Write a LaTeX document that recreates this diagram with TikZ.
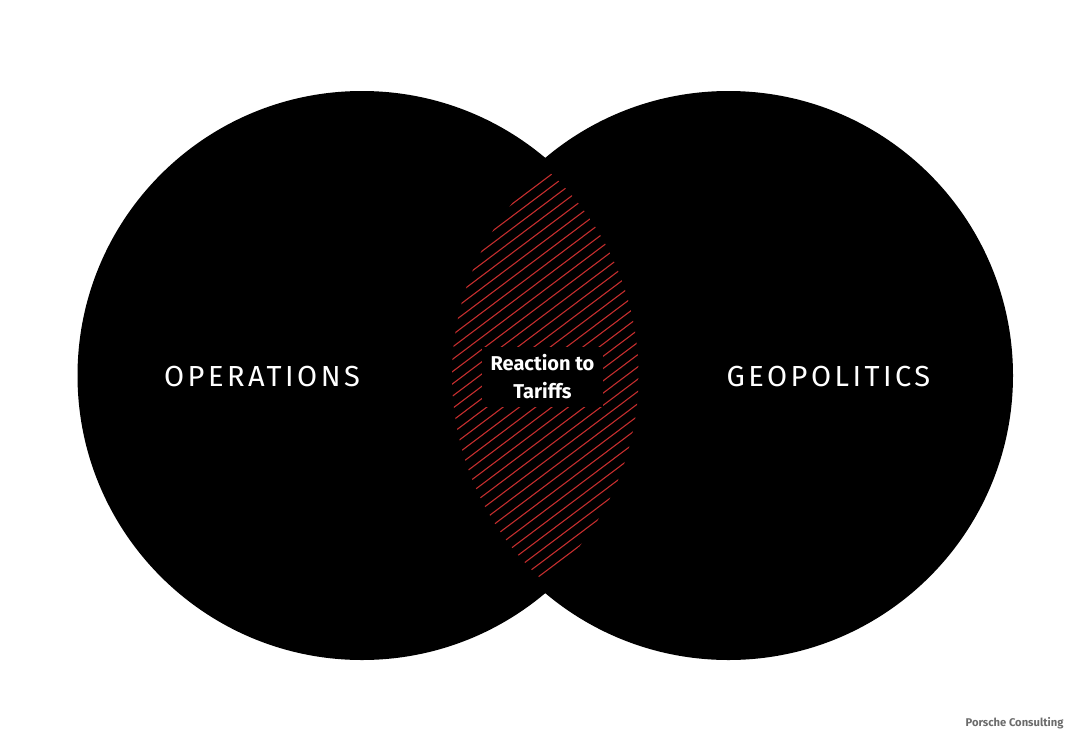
\documentclass[tikz,border=0pt]{standalone}
\usepackage{fontspec}
\setmainfont{Fira Sans}
\usepackage{tikz}
\usetikzlibrary{positioning}

\begin{document}
\begin{tikzpicture}[x=1pt,y=-1pt]
\tikzstyle{disc} = [circle, fill=black, inner sep=0pt, minimum size=569pt]
\tikzstyle{topic} = [text=white, font=\fontsize{29}{34}\selectfont\addfontfeatures{LetterSpace=12}]
\tikzstyle{overlap} = [fill=black, text=white, align=center, inner sep=0pt, minimum width=121pt, minimum height=60pt, font=\fontsize{20}{28}\selectfont\bfseries]
\tikzstyle{hatch} = [draw=red!72!black!82, line width=1.1pt]
\useasboundingbox (0,0) rectangle (1090,753);
\node[disc] (OPS) at (362,375.5) {};
\node[disc] (GEO) at (728.5,375.5) {};
% hatching inside the lens
\begin{scope}
\clip (362,375.5) circle (276.5);
\clip (728.5,375.5) circle (276.5);
\begin{scope}[shift={(545,375.5)}, rotate=37]
\foreach \k in {-30,...,30}
  \draw[hatch] (-350,\k*9.8) -- (350,\k*9.8);
\end{scope}
\end{scope}
\node[topic] (OPSL) at (262,377) {OPERATIONS};
\node[topic] (GEOL) at (828.5,377) {GEOPOLITICS};
\node[overlap] (TARIFF) at (542.5,377) {Reaction to\\Tariffs};
\node[text=black!58, font=\fontsize{11.2}{13}\selectfont\bfseries, anchor=east] (BRAND) at (1067,723) {Porsche Consulting};
\end{tikzpicture}
\end{document}
